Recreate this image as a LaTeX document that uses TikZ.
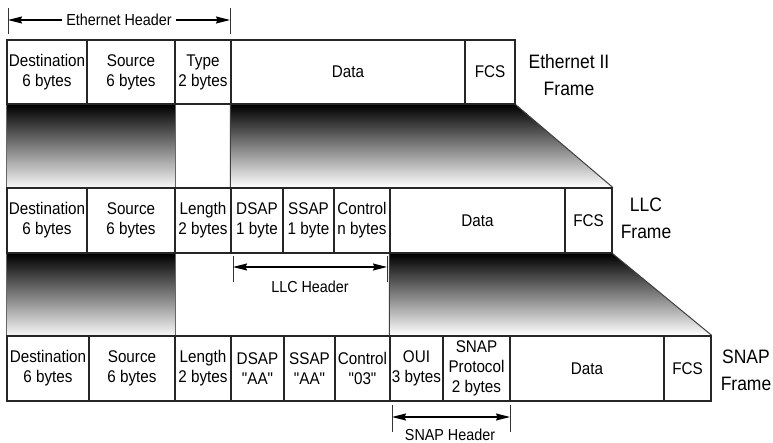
\documentclass[tikz,border=0pt]{standalone}
\usepackage{fontspec}
\setmainfont{Liberation Sans}[FakeStretch=0.9, Ligatures=TeXOff]
\usetikzlibrary{arrows.meta,backgrounds}
\begin{document}
\begin{tikzpicture}[x=1bp,y=-1bp,
  cell/.style={draw=black!85, line width=1.3bp, inner sep=0pt, align=center,
    font=\fontsize{17}{20}\selectfont},
  r1/.style={cell, minimum height=64bp},
  r2/.style={cell, minimum height=65bp},
  framelbl/.style={align=center, inner sep=0pt, font=\fontsize{19.5}{27}\selectfont},
  hdrlbl/.style={inner sep=0pt, font=\fontsize{16}{20}\selectfont},
  hdr/.style={line width=1.2bp, {Stealth[length=14bp,width=7bp,inset=1.5bp]}-{Stealth[length=14bp,width=7bp,inset=1.5bp]}},
  tick/.style={line width=1bp, black!80},
  grad/.style={top color=black, bottom color=black!3},
  gedge/.style={line width=1bp, black!75}]
\useasboundingbox (0,0) rectangle (773,443);

% Ethernet II row
\node[r1, minimum width=80bp] (eDst) at (47,72) {Destination\\6 bytes};
\node[r1, minimum width=88bp] (eSrc) at (131,72) {Source\\6 bytes};
\node[r1, minimum width=56bp] (eTyp) at (203,72) {Type\\2 bytes};
\node[r1, minimum width=234bp] (eDat) at (348,72) {Data};
\node[r1, minimum width=50bp] (eFcs) at (490,72) {FCS};
\node[framelbl] (eLbl) at (569,75) {Ethernet II\\Frame};

% LLC row
\node[r2, minimum width=80bp] (lDst) at (47,220.5) {Destination\\6 bytes};
\node[r2, minimum width=88bp] (lSrc) at (131,220.5) {Source\\6 bytes};
\node[r2, minimum width=56bp] (lLen) at (203,220.5) {Length\\2 bytes};
\node[r2, minimum width=52bp] (lDsap) at (257,220.5) {DSAP\\1 byte};
\node[r2, minimum width=51bp] (lSsap) at (308.5,220.5) {SSAP\\1 byte};
\node[r2, minimum width=56bp] (lCtl) at (362,220.5) {Control\\n bytes};
\node[r2, minimum width=175bp] (lDat) at (477.5,220.5) {Data};
\node[r2, minimum width=47bp] (lFcs) at (588.5,220.5) {FCS};
\node[framelbl] (lLbl) at (646,218.5) {LLC\\Frame};

% SNAP row
\node[r2, minimum width=82bp] (sDst) at (48,368.5) {Destination\\6 bytes};
\node[r2, minimum width=86bp] (sSrc) at (132,368.5) {Source\\6 bytes};
\node[r2, minimum width=56bp] (sLen) at (203,368.5) {Length\\2 bytes};
\node[r2, minimum width=53bp] (sDsap) at (257.5,368.5) {DSAP\\"AA"};
\node[r2, minimum width=51bp] (sSsap) at (309.5,368.5) {SSAP\\"AA"};
\node[r2, minimum width=55bp] (sCtl) at (362.5,368.5) {Control\\"03"};
\node[r2, minimum width=53bp] (sOui) at (416.5,368.5) {OUI\\3 bytes};
\node[r2, minimum width=67bp] (sPro) at (476.5,368.5) {SNAP\\Protocol\\2 bytes};
\node[r2, minimum width=154bp] (sDat) at (587,368.5) {Data};
\node[r2, minimum width=47bp] (sFcs) at (687.5,368.5) {FCS};
\node[framelbl] (sLbl) at (746,370) {SNAP\\Frame};

% gradient transitions
\begin{scope}[on background layer]
  \shade[grad, draw=black!60, line width=0.6bp] (eDst.south west) rectangle (lSrc.north east);
  \shade[top color=black, bottom color=white] (eDat.south west) -- (eFcs.south east) -- (lFcs.north east) -- (lDsap.north west) -- cycle;
  \draw[gedge] (eDat.south west) -- (lDsap.north west);
  \draw[gedge] (eFcs.south east) -- (lFcs.north east);
  \shade[grad, draw=black!60, line width=0.6bp] (lDst.south west) rectangle (sSrc.north east);
  \shade[top color=black, bottom color=white] (lDat.south west) -- (lFcs.south east) -- (sFcs.north east) -- (sOui.north west) -- cycle;
  \draw[gedge] (lDat.south west) -- (sOui.north west);
  \draw[gedge] (lFcs.south east) -- (sFcs.north east);
\end{scope}

% Ethernet header
\coordinate (ehA) at (8,20);
\coordinate (ehB) at (230,20);
\draw[tick] (8,8) -- (8,34);
\draw[tick] (230,8) -- (230,34);
\draw[hdr] (ehA) -- (ehB) node[midway, fill=white, inner xsep=4bp, inner ysep=1bp, font=\fontsize{16}{20}\selectfont] (ehT) {Ethernet Header};

% LLC header
\coordinate (lhA) at (233,267);
\coordinate (lhB) at (387,267);
\draw[tick] (233,256) -- (233,282);
\draw[tick] (387,256) -- (387,282);
\draw[hdr] (lhA) -- (lhB);
\node[hdrlbl] (lhT) at (310,287) {LLC Header};

% SNAP header
\coordinate (shA) at (392,417);
\coordinate (shB) at (510,417);
\draw[tick] (392,405) -- (392,432);
\draw[tick] (510,405) -- (510,432);
\draw[hdr] (shA) -- (shB);
\node[hdrlbl] (shT) at (450,434.5) {SNAP Header};
\end{tikzpicture}
\end{document}
